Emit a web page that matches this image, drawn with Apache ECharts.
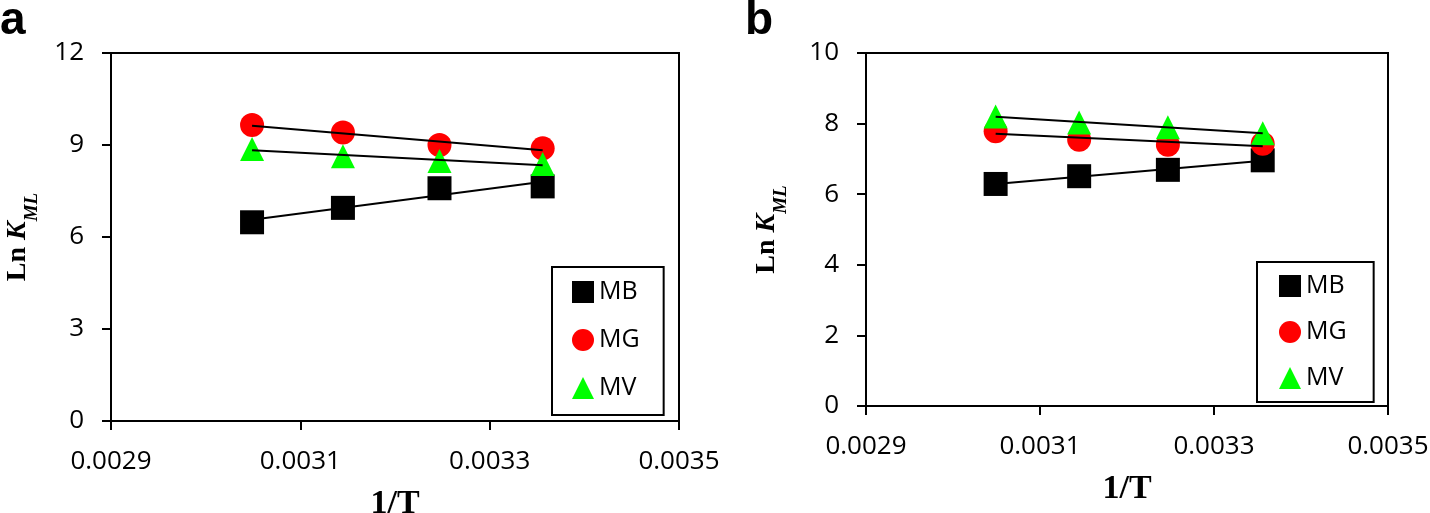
<!DOCTYPE html>
<html><head><meta charset="utf-8">
<script src="https://cdn.jsdelivr.net/npm/echarts@6/dist/echarts.min.js"></script>
<style>html,body{margin:0;padding:0;background:#fff}#c{width:1430px;height:513px}</style>
</head><body><div id="c"></div>
<script>
// 1/T values (K^-1): 1/328, 1/318, 1/308, 1/298
const invT = [0.003049, 0.003145, 0.003247, 0.003356];
const seriesNames = ['MB', 'MG', 'MV'];
// Panel a
const aMB = [6.48, 6.95, 7.59, 7.65];
const aMG = [9.65, 9.41, 9.00, 8.89];
const aMV = [8.87, 8.63, 8.48, 8.38];
// Panel b
const bMB = [6.29, 6.51, 6.69, 6.96];
const bMG = [7.78, 7.54, 7.40, 7.43];
const bMV = [8.20, 8.03, 7.90, 7.73];
// axis ranges [min, max, interval]
const xRange = [0.0029, 0.0035, 0.0002];
const aYRange = [0, 12, 3];
const bYRange = [0, 10, 2];

const colors = {MB: '#000000', MG: '#ff0000', MV: '#00ff00'};
const symbols = {MB: 'rect', MG: 'circle', MV: 'triangle'};

function fitLine(xs, ys) {
  const n = xs.length;
  const mx = xs.reduce((s, v) => s + v, 0) / n;
  const my = ys.reduce((s, v) => s + v, 0) / n;
  let sxy = 0, sxx = 0;
  for (let i = 0; i < n; i++) { sxy += (xs[i] - mx) * (ys[i] - my); sxx += (xs[i] - mx) ** 2; }
  const k = sxy / sxx, b0 = my - k * mx;
  const x0 = xs[0], x1 = xs[n - 1];
  return [[x0, k * x0 + b0], [x1, k * x1 + b0]];
}

const panels = [
  {data: {MB: aMB, MG: aMG, MV: aMV}},
  {data: {MB: bMB, MG: bMG, MV: bMV}}
];

const series = [];
panels.forEach((p, pi) => {
  seriesNames.forEach(nm => {
    series.push({
      type: 'scatter', name: nm, xAxisIndex: pi, yAxisIndex: pi,
      symbol: symbols[nm], symbolSize: 24,
      itemStyle: {color: colors[nm], opacity: 1},
      data: invT.map((x, i) => [x, p.data[nm][i]]), z: 2
    });
  });
  seriesNames.forEach(nm => {
    series.push({
      type: 'line', name: nm + '-fit', xAxisIndex: pi, yAxisIndex: pi,
      symbol: 'none', silent: true, z: 5,
      lineStyle: {color: '#000', width: 2},
      data: fitLine(invT, p.data[nm])
    });
  });
});

const tickFont = {fontFamily: 'Open Sans', fontSize: 26, color: '#000'};
function xAxis(gi) {
  return {
    type: 'value', gridIndex: gi, min: xRange[0], max: xRange[1], interval: xRange[2],
    axisLine: {show: true, onZero: false, lineStyle: {color: '#000', width: 2}},
    axisTick: {show: true, inside: false, length: 9, lineStyle: {color: '#000', width: 2}},
    axisLabel: Object.assign({margin: 28, formatter: v => v.toFixed(4)}, tickFont),
    splitLine: {show: false},
    name: '1/T', nameLocation: 'middle', nameGap: 66,
    nameTextStyle: {fontFamily: 'Liberation Serif', fontWeight: 'bold', fontSize: 34, color: '#000'}
  };
}
function yAxis(gi, r, gap) {
  return {
    type: 'value', gridIndex: gi, min: r[0], max: r[1], interval: r[2],
    axisLine: {show: true, lineStyle: {color: '#000', width: 2}},
    axisTick: {show: true, inside: false, length: 9, lineStyle: {color: '#000', width: 2}},
    axisLabel: Object.assign({margin: 27}, tickFont),
    splitLine: {show: false},
    name: '{a|Ln }{b|K}{c|ML}', nameLocation: 'middle', nameGap: gap,
    nameTextStyle: {
      color: '#000',
      rich: {
        a: {fontFamily: 'Liberation Serif', fontWeight: 'bold', fontSize: 28, lineHeight: 28, verticalAlign: 'top', color: '#000'},
        b: {fontFamily: 'Liberation Serif', fontWeight: 'bold', fontStyle: 'italic', fontSize: 28, lineHeight: 28, verticalAlign: 'top', color: '#000'},
        c: {fontFamily: 'Liberation Serif', fontWeight: 'bold', fontStyle: 'italic', fontSize: 19, lineHeight: 38, verticalAlign: 'bottom', color: '#000'}
      }
    }
  };
}

function legend(left, top, padding, gap) {
  return {
    orient: 'vertical', left: left, top: top, padding: padding, itemGap: gap,
    itemWidth: 22, itemHeight: 22, selectedMode: false,
    borderColor: '#000', borderWidth: 2, backgroundColor: '#fff',
    textStyle: {fontFamily: 'Open Sans', fontSize: 25, lineHeight: 30, color: '#000'},
    data: seriesNames.map(nm => ({name: nm, icon: symbols[nm], itemStyle: {color: colors[nm]}}))
  };
}

const chart = echarts.init(document.getElementById('c'), null, {renderer: 'canvas'});
chart.setOption({
  animation: false,
  backgroundColor: '#fff',
  grid: [
    {left: 111, top: 53, width: 568, height: 368, show: true, borderColor: '#000', borderWidth: 2, backgroundColor: 'transparent', containLabel: false, outerBoundsMode: 'none'},
    {left: 866, top: 53, width: 522, height: 353, show: true, borderColor: '#000', borderWidth: 2, backgroundColor: 'transparent', containLabel: false, outerBoundsMode: 'none'}
  ],
  xAxis: [xAxis(0), xAxis(1)],
  yAxis: [yAxis(0, aYRange, 69), yAxis(1, bYRange, 75)],
  legend: [legend(552, 267, [10, 24, 12, 20], 18), legend(1257, 262, [9, 27, 9, 22], 16)],
  graphic: [
    {type: 'text', x: 0, y: 21, style: {text: 'a', font: 'bold 46px "Liberation Sans"', fill: '#000', verticalAlign: 'middle'}},
    {type: 'text', x: 745, y: 21, style: {text: 'b', font: 'bold 46px "Liberation Sans"', fill: '#000', verticalAlign: 'middle'}}
  ],
  series: series
});
</script></body></html>
